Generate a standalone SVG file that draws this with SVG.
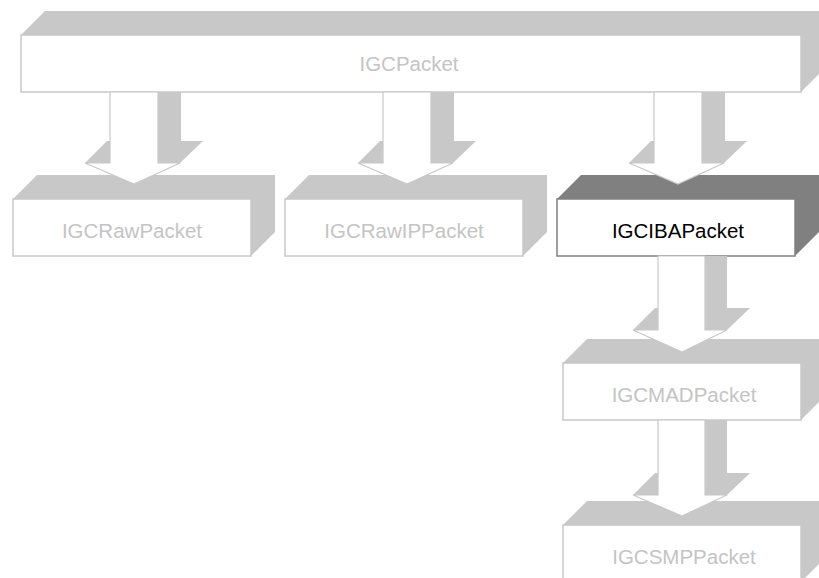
<svg xmlns="http://www.w3.org/2000/svg" width="819" height="578" viewBox="0 0 819 578">
<style>
.sh{fill:#c8c8c8;stroke:none}
.shd{fill:#808080;stroke:none}
.fr{fill:#ffffff;stroke:#c8c8c8;stroke-width:1.5}
.frd{fill:#ffffff;stroke:#808080;stroke-width:1.5}
.t{font-family:"Liberation Sans",Arial,sans-serif;font-size:20.5px;text-anchor:middle;fill:#c4c4c4}
.td{fill:#000000}
.af{fill:#ffffff;stroke:#c8c8c8;stroke-width:1.2;stroke-linejoin:miter}
</style>
<rect width="819" height="578" fill="#ffffff"/>
<g id="IGCPacket">
<polygon class="sh" points="21,35 45,11 825,11 825,68 801,92"/>
<rect class="fr" x="21" y="35" width="780" height="57"/>
<text class="t" x="409" y="71">IGCPacket</text>
</g>
<g id="IGCRawPacket">
<polygon class="sh" points="13,199 37,175 275,175 275,232 251,256"/>
<rect class="fr" x="13" y="199" width="238" height="57"/>
<text class="t" x="132" y="238">IGCRawPacket</text>
</g>
<g id="IGCRawIPPacket">
<polygon class="sh" points="285,199 309,175 547,175 547,232 523,256"/>
<rect class="fr" x="285" y="199" width="238" height="57"/>
<text class="t" x="404" y="238">IGCRawIPPacket</text>
</g>
<g id="IGCIBAPacket">
<polygon class="shd" points="557,199 581,175 819,175 819,232 795,256"/>
<rect class="frd" x="557" y="199" width="238" height="57"/>
<text class="t td" x="678" y="238">IGCIBAPacket</text>
</g>
<g id="IGCMADPacket">
<polygon class="sh" points="563,363 587,339 825,339 825,396 801,420"/>
<rect class="fr" x="563" y="363" width="238" height="57"/>
<text class="t" x="684" y="402">IGCMADPacket</text>
</g>
<g id="IGCSMPPacket">
<polygon class="sh" points="563,525 587,501 825,501 825,558 801,582"/>
<rect class="fr" x="563" y="525" width="238" height="57"/>
<text class="t" x="684" y="564">IGCSMPPacket</text>
</g>
<g id="connectors">
<g id="a1">
<polygon class="sh" points="158,92 181,92 181,141 203,141 180,163 158,163"/>
<polygon class="sh" points="85,163 107,141 110,141 110,163"/>
<polygon class="af" points="110,92 158,92 158,163 180,163 134,184 85,163 110,163"/>
</g>
<g id="a2">
<polygon class="sh" points="431,92 454,92 454,141 476,141 453,163 431,163"/>
<polygon class="sh" points="358,163 380,141 383,141 383,163"/>
<polygon class="af" points="383,92 431,92 431,163 453,163 407,184 358,163 383,163"/>
</g>
<g id="a3">
<polygon class="sh" points="702,92 725,92 725,141 747,141 724,163 702,163"/>
<polygon class="sh" points="629,163 651,141 654,141 654,163"/>
<polygon class="af" points="654,92 702,92 702,163 724,163 678,184 629,163 654,163"/>
</g>
<g id="a4">
<polygon class="sh" points="705,256 727,256 727,308 750,308 727,330 705,330"/>
<polygon class="sh" points="633,330 655,308 658,308 658,330"/>
<polygon class="af" points="658,256 705,256 705,330 727,330 682,352 633,330 658,330"/>
</g>
<g id="a5">
<polygon class="sh" points="705,420 727,420 727,473 750,473 727,495 705,495"/>
<polygon class="sh" points="633,495 655,473 658,473 658,495"/>
<polygon class="af" points="658,420 705,420 705,495 727,495 682,516 633,495 658,495"/>
</g>
</g>
</svg>
